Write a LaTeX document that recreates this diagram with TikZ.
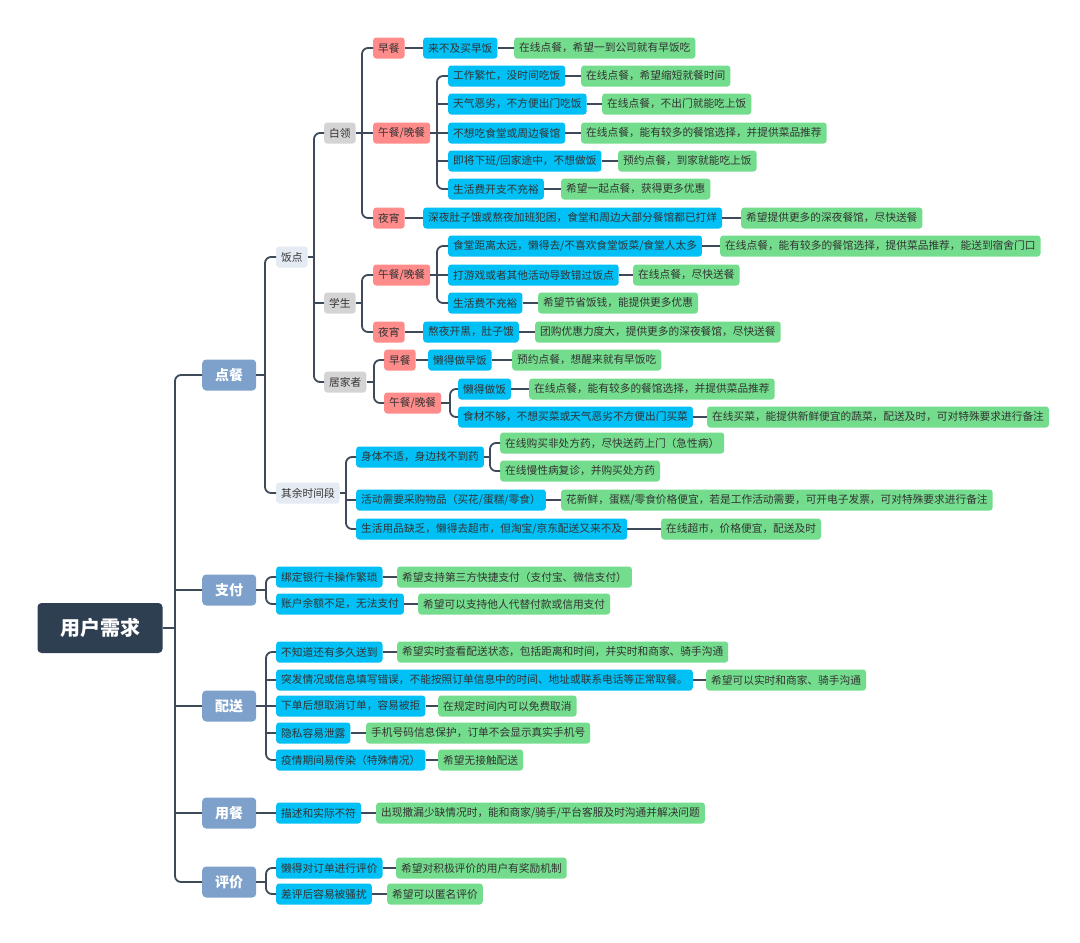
\documentclass[tikz,border=0pt]{standalone}
\usepackage{fontspec}
\setmainfont{Noto Sans CJK SC}
\usetikzlibrary{positioning}
% parent, bus x, first child, last child, middle children
\newcommand{\leg}[5]{
    \coordinate (bus) at (#2,0);
    \draw[lin] (#1.east) -- (#1.east -| bus);
    \draw[lin] (#3.west) -- (#3.west -| bus) -- (#4.west -| bus) -- (#4.west);
    \if\relax\detokenize{#5}\relax\else
        \foreach \c in {#5} {
            \draw[lin] (\c.west) -- (\c.west -| bus);
        }
    \fi
}
\newcommand{\pereche}[6]{
    \node[nevoie] (#1) at (#3,#2) {#4};
    \node[dorinta] (#1h) at (#5,#2) {#6};
    \draw[lin] (#1.east) -- (#1h.west);
}

\begin{document}
\begin{tikzpicture}[x=1pt, y=-1pt]
            \definecolor{cad}{HTML}{2E3F51}
            \definecolor{cap1}{HTML}{7DA1CB}
            \definecolor{pal}{HTML}{E5EBF3}
            \definecolor{gri}{HTML}{D4D4D4}
            \definecolor{roz}{HTML}{FF8B8B}
            \definecolor{alb}{HTML}{00C0F5}
            \definecolor{ver}{HTML}{74DC8D}
            \definecolor{fir}{HTML}{3E4A5A}
            \definecolor{txt}{HTML}{333333}

            \tikzstyle{every node} = [font=\fontsize{10.7}{12}\selectfont, text=txt, inner xsep=5pt, inner ysep=0pt, minimum height=21pt, rounded corners=3pt, anchor=west]
            \tikzstyle{tema} = [fill=cad, text=white, font=\fontsize{20}{24}\selectfont\bfseries, minimum width=125pt, minimum height=50pt, anchor=center, rounded corners=4pt]
            \tikzstyle{capitol} = [fill=cap1, text=white, font=\fontsize{14}{16}\selectfont\bfseries, minimum width=54pt, minimum height=31pt, rounded corners=4pt]
            \tikzstyle{grup} = [fill=pal]
            \tikzstyle{pers} = [fill=gri]
            \tikzstyle{masa} = [fill=roz]
            \tikzstyle{nevoie} = [fill=alb]
            \tikzstyle{dorinta} = [fill=ver]
            \tikzstyle{lin} = [draw=fir, line width=1.8pt, rounded corners=6pt]

            \fill[white] (0,0) rectangle (1080,943);
            \useasboundingbox (0,0) rectangle (1080,943);

            % root and main branches
            \node[tema] (uz) at (100,628) {用户需求};
            \node[capitol] (dc) at (202,375) {点餐};
            \node[capitol] (zf) at (202,590) {支付};
            \node[capitol] (ps) at (202,706) {配送};
            \node[capitol] (yc) at (202,813) {用餐};
            \node[capitol] (pj) at (202,882) {评价};
            \leg{uz}{175}{dc}{pj}{zf,ps,yc}

            % ordering
            \node[grup] (fd) at (276,257) {饭点};
            \node[grup] (qy) at (276,493) {其余时间段};
            \leg{dc}{265}{fd}{qy}{}

            \node[pers] (bl) at (324,133) {白领};
            \node[pers] (xs) at (324,303) {学生};
            \node[pers] (jj) at (324,382) {居家者};
            \leg{fd}{314}{bl}{jj}{xs}

            \node[masa] (bl1) at (373,48) {早餐};
            \node[masa] (bl2) at (373,133) {午餐/晚餐};
            \node[masa] (bl3) at (373,218) {夜宵};
            \leg{bl}{362}{bl1}{bl3}{bl2}
            \node[masa] (xs1) at (373,275) {午餐/晚餐};
            \node[masa] (xs2) at (373,332) {夜宵};
            \leg{xs}{362}{xs1}{xs2}{}
            \node[masa] (jj1) at (384,360) {早餐};
            \node[masa] (jj2) at (384,403) {午餐/晚餐};
            \leg{jj}{374}{jj1}{jj2}{}

            \pereche{a1}{48}{423}{来不及买早饭}{514}{在线点餐，希望一到公司就有早饭吃}
            \draw[lin] (bl1.east) -- (a1.west);
            \pereche{a2}{76}{448}{工作繁忙，没时间吃饭}{581}{在线点餐，希望缩短就餐时间}
            \pereche{a3}{104}{448}{天气恶劣，不方便出门吃饭}{602}{在线点餐，不出门就能吃上饭}
            \pereche{a4}{133}{448}{不想吃食堂或周边餐馆}{581}{在线点餐，能有较多的餐馆选择，并提供菜品推荐}
            \pereche{a5}{161}{448}{即将下班/回家途中，不想做饭}{618}{预约点餐，到家就能吃上饭}
            \pereche{a6}{189}{448}{生活费开支不充裕}{561}{希望一起点餐，获得更多优惠}
            \leg{bl2}{437}{a2}{a6}{a3,a4,a5}
            \pereche{a7}{218}{423}{深夜肚子饿或熬夜加班犯困，食堂和周边大部分餐馆都已打烊}{741}{希望提供更多的深夜餐馆，尽快送餐}
            \draw[lin] (bl3.east) -- (a7.west);

            \pereche{b1}{246}{448}{食堂距离太远，懒得去/不喜欢食堂饭菜/食堂人太多}{720}{在线点餐，能有较多的餐馆选择，提供菜品推荐，能送到宿舍门口}
            \pereche{b2}{275}{448}{打游戏或者其他活动导致错过饭点}{633}{在线点餐，尽快送餐}
            \pereche{b3}{303}{448}{生活费不充裕}{538}{希望节省饭钱，能提供更多优惠}
            \leg{xs1}{437}{b1}{b3}{b2}
            \pereche{b4}{332}{423}{熬夜开黑，肚子饿}{535}{团购优惠力度大，提供更多的深夜餐馆，尽快送餐}
            \draw[lin] (xs2.east) -- (b4.west);

            \pereche{c1}{360}{428}{懒得做早饭}{512}{预约点餐，想醒来就有早饭吃}
            \draw[lin] (jj1.east) -- (c1.west);
            \pereche{c2}{389}{458}{懒得做饭}{529}{在线点餐，能有较多的餐馆选择，并提供菜品推荐}
            \pereche{c3}{417}{458}{食材不够，不想买菜或天气恶劣不方便出门买菜}{707}{在线买菜，能提供新鲜便宜的蔬菜，配送及时，可对特殊要求进行备注}
            \leg{jj2}{450}{c2}{c3}{}

            % other times
            \node[nevoie] (d1) at (356,457) {身体不适，身边找不到药};
            \node[dorinta] (d1a) at (500,443) {在线购买非处方药，尽快送药上门（急性病）};
            \node[dorinta] (d1b) at (500,471) {在线慢性病复诊，并购买处方药};
            \leg{d1}{490}{d1a}{d1b}{}
            \pereche{d2}{500}{356}{活动需要采购物品（买花/蛋糕/零食）}{561}{花新鲜，蛋糕/零食价格便宜，若是工作活动需要，可开电子发票，可对特殊要求进行备注}
            \pereche{d3}{529}{356}{生活用品缺乏，懒得去超市，但淘宝/京东配送又来不及}{661}{在线超市，价格便宜，配送及时}
            \leg{qy}{346}{d1}{d3}{d2}

            % payment
            \pereche{e1}{577}{276}{绑定银行卡操作繁琐}{397}{希望支持第三方快捷支付（支付宝、微信支付）}
            \pereche{e2}{604}{276}{账户余额不足，无法支付}{418}{希望可以支持他人代替付款或信用支付}
            \leg{zf}{266}{e1}{e2}{}

            % delivery
            \pereche{f1}{652}{276}{不知道还有多久送到}{397}{希望实时查看配送状态，包括距离和时间，并实时和商家、骑手沟通}
            \pereche{f2}{680}{276}{突发情况或信息填写错误，不能按照订单信息中的时间、地址或联系电话等正常取餐。}{706}{希望可以实时和商家、骑手沟通}
            \pereche{f3}{706}{276}{下单后想取消订单，容易被拒}{438}{在规定时间内可以免费取消}
            \pereche{f4}{733}{276}{隐私容易泄露}{366}{手机号码信息保护，订单不会显示真实手机号}
            \pereche{f5}{760}{276}{疫情期间易传染（特殊情况）}{438}{希望无接触配送}
            \leg{ps}{266}{f1}{f5}{f2,f3,f4}

            % meal and review
            \pereche{g1}{813}{276}{描述和实际不符}{376}{出现撒漏少缺情况时，能和商家/骑手/平台客服及时沟通并解决问题}
            \draw[lin] (yc.east) -- (g1.west);
            \pereche{h1}{868}{276}{懒得对订单进行评价}{396}{希望对积极评价的用户有奖励机制}
            \pereche{h2}{894}{276}{差评后容易被骚扰}{387}{希望可以匿名评价}
            \leg{pj}{266}{h1}{h2}{}
\end{tikzpicture}
\end{document}
